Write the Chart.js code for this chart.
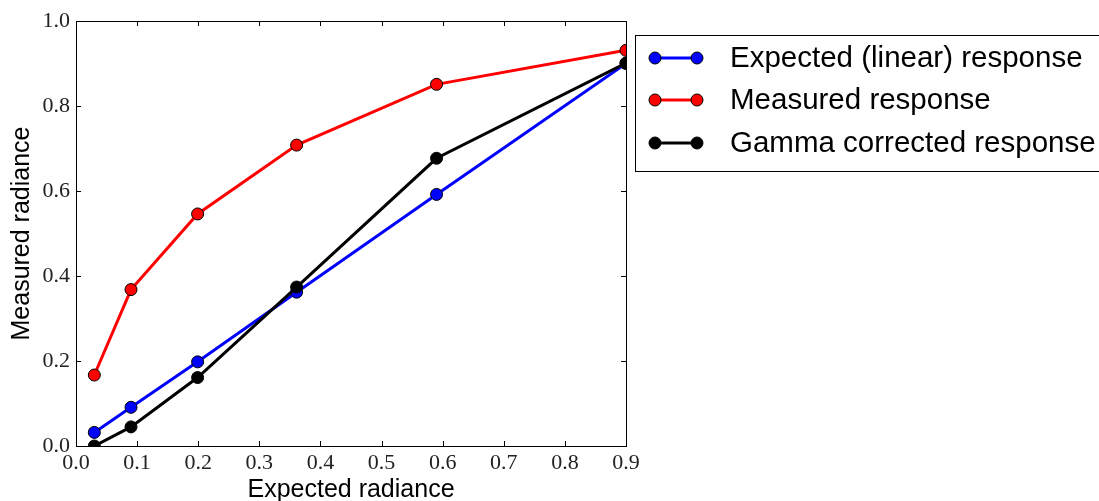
<!DOCTYPE html>
<html>
<head>
<meta charset="utf-8">
<script src="https://cdn.jsdelivr.net/npm/chart.js@4/dist/chart.umd.min.js"></script>
<style>
  html, body { margin: 0; padding: 0; background: #fff; }
  #wrap { width: 1099px; height: 501px; }
</style>
</head>
<body>
<div id="wrap"><canvas id="c" width="1099" height="501"></canvas></div>
<script>
// ---- data ----
const expectedX = [0.030, 0.090, 0.199, 0.361, 0.590, 0.900];
const linearY   = [0.032, 0.091, 0.198, 0.362, 0.592, 0.900];
const measuredY = [0.167, 0.368, 0.546, 0.708, 0.851, 0.931];
const gammaY    = [0.000, 0.045, 0.161, 0.374, 0.677, 0.901];
const seriesLabels = ['Expected (linear) response', 'Measured response', 'Gamma corrected response'];
const seriesColors = ['#0000ff', '#ff0000', '#000000'];
const xTickValues = [0, 0.1, 0.2, 0.3, 0.4, 0.5, 0.6, 0.7, 0.8, 0.9];
const yTickValues = [0, 0.2, 0.4, 0.6, 0.8, 1.0];
const xTitle = 'Expected radiance';
const yTitle = 'Measured radiance';

const pts = ys => expectedX.map((x, i) => ({ x: x, y: ys[i] }));
const allY = [linearY, measuredY, gammaY];

const datasets = allY.map((ys, i) => ({
  label: seriesLabels[i],
  data: pts(ys),
  borderColor: seriesColors[i],
  backgroundColor: seriesColors[i],
  borderWidth: 3,
  pointRadius: 6,
  pointHoverRadius: 6,
  pointBackgroundColor: seriesColors[i],
  pointBorderColor: '#000',
  pointBorderWidth: 1,
  tension: 0,
  clip: 0,
  order: 3 - i
}));

// frame + inward ticks on all four sides
const framePlugin = {
  id: 'frame',
  afterDatasetsDraw(chart) {
    const { ctx, chartArea: a, scales: { x, y } } = chart;
    const L = 5;
    ctx.save();
    ctx.strokeStyle = '#000';
    ctx.lineWidth = 1;
    ctx.beginPath();
    x.ticks.forEach(t => {
      const px = Math.round(x.getPixelForValue(t.value)) + 0.5;
      ctx.moveTo(px, a.bottom); ctx.lineTo(px, a.bottom - L);
      ctx.moveTo(px, a.top); ctx.lineTo(px, a.top + L);
    });
    y.ticks.forEach(t => {
      const py = Math.round(y.getPixelForValue(t.value)) + 0.5;
      ctx.moveTo(a.left, py); ctx.lineTo(a.left + L, py);
      ctx.moveTo(a.right, py); ctx.lineTo(a.right - L, py);
    });
    ctx.stroke();
    ctx.strokeRect(Math.round(a.left) + 0.5, Math.round(a.top) + 0.5,
                   Math.round(a.right - a.left), Math.round(a.bottom - a.top));
    ctx.restore();
  }
};

// matplotlib-style legend box
const legendPlugin = {
  id: 'mplLegend',
  afterDraw(chart) {
    const { ctx } = chart;
    const box = { x: 635.5, y: 35.5, w: 480, h: 136 };
    const rows = [58, 100, 143];
    ctx.save();
    ctx.fillStyle = '#fff';
    ctx.fillRect(box.x, box.y, box.w, box.h);
    ctx.strokeStyle = '#000';
    ctx.lineWidth = 1;
    ctx.strokeRect(box.x, box.y, box.w, box.h);
    chart.data.datasets.forEach((ds, i) => {
      const yy = rows[i];
      ctx.strokeStyle = ds.borderColor;
      ctx.lineWidth = 3;
      ctx.beginPath();
      ctx.moveTo(655, yy); ctx.lineTo(697, yy);
      ctx.stroke();
      [655, 697].forEach(cx => {
        ctx.beginPath();
        ctx.arc(cx, yy, 6, 0, Math.PI * 2);
        ctx.fillStyle = ds.pointBackgroundColor;
        ctx.fill();
        ctx.lineWidth = 1;
        ctx.strokeStyle = '#000';
        ctx.stroke();
      });
      ctx.fillStyle = '#000';
      ctx.font = '29.5px "Liberation Sans", Arial, sans-serif';
      ctx.textBaseline = 'middle';
      ctx.textAlign = 'left';
      ctx.fillText(ds.label, 730, yy + 1);
    });
    ctx.restore();
  }
};

const tickFont = { family: '"Liberation Serif", "DejaVu Serif", serif', size: 22 };
const titleFont = { family: '"Liberation Sans", Arial, sans-serif', size: 25, lineHeight: 1 };

new Chart(document.getElementById('c'), {
  type: 'line',
  data: { datasets: datasets },
  options: {
    responsive: false,
    animation: false,
    events: [],
    layout: { padding: { top: 21, right: 473, left: 0, bottom: 0 } },
    plugins: { legend: { display: false }, tooltip: { enabled: false } },
    scales: {
      x: {
        type: 'linear',
        min: 0, max: 0.9,
        afterBuildTicks: s => { s.ticks = xTickValues.map(v => ({ value: v })); },
        afterFit: s => { s.height = 55; },
        ticks: { font: tickFont, color: '#222', padding: 4, maxRotation: 0,
                 callback: v => Number(v).toFixed(1) },
        grid: { display: false, drawTicks: false },
        border: { display: false },
        title: { display: true, text: xTitle, font: titleFont, color: '#000', padding: { bottom: -1.5 } }
      },
      y: {
        type: 'linear',
        min: 0, max: 1.0,
        afterBuildTicks: s => { s.ticks = yTickValues.map(v => ({ value: v })); },
        afterFit: s => { s.width = 76; },
        ticks: { font: tickFont, color: '#222', padding: 6,
                 callback: v => Number(v).toFixed(1) },
        grid: { display: false, drawTicks: false },
        border: { display: false },
        title: { display: true, text: yTitle, font: titleFont, color: '#000', padding: { top: 9.5 } }
      }
    }
  },
  plugins: [framePlugin, legendPlugin]
});
</script>
</body>
</html>
